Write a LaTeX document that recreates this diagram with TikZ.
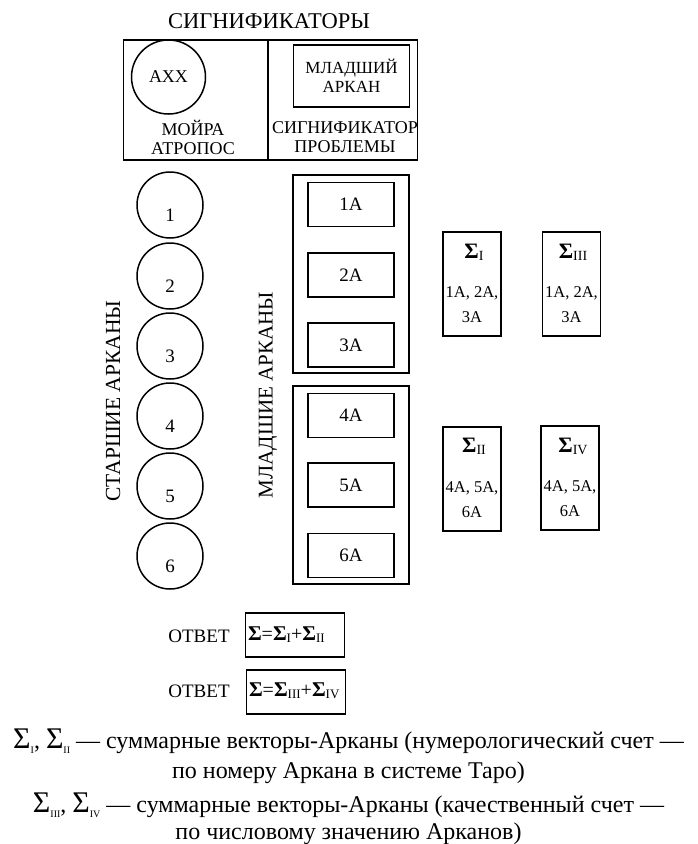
\documentclass[tikz,border=0pt]{standalone}
\usepackage{fontspec}
\setmainfont{Liberation Serif}
\newcommand\sgb[1]{{\fontsize{22}{22}\selectfont\textbf{Σ}}\raisebox{-0.4ex}{\fontsize{14}{14}\selectfont #1}}
\newcommand\sgf[1]{{\fontsize{21}{21}\selectfont\textbf{Σ}}\raisebox{-0.45ex}{\fontsize{13}{13}\selectfont #1}}
\newcommand\sgn[1]{{\fontsize{30}{30}\selectfont Σ}\raisebox{-0.45ex}{\fontsize{10}{10}\selectfont #1}}
\begin{document}
\begin{tikzpicture}[x=1pt,y=-1pt,
  every node/.style={inner sep=0pt, outer sep=0pt},
  frame/.style={draw, line width=1.5pt},
  circ/.style={draw, line width=1.5pt, circle, minimum size=66pt},
  lbl/.style={font=\fontsize{18}{19}\selectfont},
  abox/.style={draw, line width=1.5pt, minimum width=86pt, minimum height=44pt, font=\fontsize{19}{19}\selectfont},
  sbox/.style={draw, line width=1.5pt, minimum width=58pt, minimum height=104pt},
  fbox/.style={draw, line width=1.5pt, minimum width=99pt, minimum height=44pt},
  legend/.style={font=\fontsize{24}{24}\selectfont}]
\useasboundingbox (0,0) rectangle (697,844);
% title
\node[font=\fontsize{22.5}{22}\selectfont] (title) at (269,21) {СИГНИФИКАТОРЫ};
% top frame
\node[frame, minimum width=294pt, minimum height=120pt] (top) at (270.5,100) {};
\coordinate (dtop) at (268,40);
\coordinate (dbot) at (268,160);
\draw[line width=1.5pt] (dtop) -- (dbot);
\node[circ, minimum size=74pt, font=\fontsize{18}{18}\selectfont] (axx) at (168.5,77) {АХХ};
\node[lbl, align=center] (moira) at (193,137) {МОЙРА\\[0pt]АТРОПОС};
\node[draw, line width=1.5pt, minimum width=116pt, minimum height=62pt, align=center, font=\fontsize{17}{19}\selectfont] (mladsh) at (351.5,76) {МЛАДШИЙ\\[0pt]АРКАН};
\node[lbl, align=center] (signif) at (345,137) {СИГНИФИКАТОР\\[0pt]ПРОБЛЕМЫ};
% major arcana circles
\foreach \i/\y in {1/205,2/276,3/346,4/416,5/486,6/556}{
  \node[circ] (c\i) at (170,\y) {};
  \node[font=\fontsize{19}{19}\selectfont] (n\i) at (170,\y+10) {\i};
}
\node[rotate=90, font=\fontsize{21.5}{21}\selectfont] (starsh) at (113,401) {СТАРШИЕ АРКАНЫ};
\node[rotate=90, font=\fontsize{21}{21}\selectfont] (mlad) at (268,395) {МЛАДШИЕ АРКАНЫ};
% minor arcana groups
\node[frame, minimum width=116pt, minimum height=198pt] (g1) at (351,274) {};
\node[frame, minimum width=116pt, minimum height=198pt] (g2) at (351,485) {};
\foreach \i/\y in {1/204.5,2/275,3/345,4/415.5,5/485,6/555.5}{
  \node[abox] (a\i) at (351,\y) {\i А};
}
% sigma boxes
\node[sbox] (s1) at (472,284) {};
\node[sbox] (s3) at (571.5,284) {};
\node[sbox] (s2) at (472,479) {};
\node[sbox] (s4) at (570,478) {};
\node (s1t) at (474,252) {\sgb{I}};
\node (s3t) at (573,252) {\sgb{III}};
\node (s2t) at (474,446) {\sgb{II}};
\node (s4t) at (573,446) {\sgb{IV}};
\node[align=center, font=\fontsize{16.5}{25}\selectfont] (s1b) at (472,305) {1А, 2А,\\3А};
\node[align=center, font=\fontsize{16.5}{25}\selectfont] (s3b) at (571.5,305) {1А, 2А,\\3А};
\node[align=center, font=\fontsize{16.5}{25}\selectfont] (s2b) at (472,500) {4А, 5А,\\6А};
\node[align=center, font=\fontsize{16.5}{25}\selectfont] (s4b) at (570,499) {4А, 5А,\\6А};
% answers
\node[font=\fontsize{19}{19}\selectfont] (otv1) at (199,636) {ОТВЕТ};
\node[fbox] (f1) at (295,635) {};
\node[anchor=west] (f1t) at (248,635) {\sgf{}{\fontsize{20}{20}\selectfont =}\sgf{I}{\fontsize{20}{20}\selectfont +}\sgf{II}};
\node[font=\fontsize{19}{19}\selectfont] (otv2) at (199,691) {ОТВЕТ};
\node[fbox] (f2) at (296,692) {};
\node[anchor=west] (f2t) at (249,691) {\sgf{}{\fontsize{20}{20}\selectfont =}\sgf{III}{\fontsize{20}{20}\selectfont +}\sgf{IV}};
% legend
\node[legend] (l1) at (348.5,741) {\sgn{I}, \sgn{II} — суммарные векторы-Арканы (нумерологический счет —};
\node[legend] (l2) at (348.5,773) {по номеру Аркана в системе Таро)};
\node[legend] (l3) at (348.5,805) {\sgn{III}, \sgn{IV} — суммарные векторы-Арканы (качественный счет —};
\node[legend] (l4) at (348.5,834) {по числовому значению Арканов)};
\end{tikzpicture}
\end{document}
